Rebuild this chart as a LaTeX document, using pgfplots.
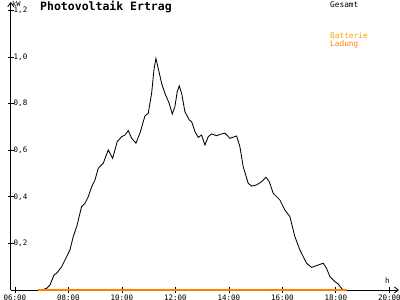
\documentclass[border=0pt]{standalone}
\usepackage{pgfplots}
\pgfplotsset{compat=1.18}
\usepackage{fontspec}
\setmainfont{DejaVu Sans}
\setmonofont{DejaVu Sans Mono}
\usetikzlibrary{arrows.meta}
\definecolor{pvorange}{HTML}{FF8000}
\definecolor{pvyellow}{HTML}{FFA500}
\begin{document}
\begin{tikzpicture}
\useasboundingbox (0pt,0pt) rectangle (400pt,300pt);
\begin{axis}[
 at={(10.7pt,10pt)}, anchor=south west,
 scale only axis, width=388.3pt, height=288pt,
 xmin=5.84, xmax=20.36, ymin=0, ymax=1.236,
 axis lines=left,
 axis line style={line width=0.8pt, -{Straight Barb[length=4pt,width=6pt]}},
 tick style={black, line width=0.8pt},
 major tick length=6pt, tick align=center,
 xtick={6,8,10,12,14,16,18,20},
 xticklabels={06:00,08:00,10:00,12:00,14:00,16:00,18:00,20:00},
 ytick={0.2,0.4,0.6,0.8,1.0,1.2},
 yticklabels={{0,2},{0,4},{0,6},{0,8},{1,0},{1,2}},
 xticklabel style={font=\ttfamily\fontsize{7.5}{8}\selectfont, yshift=1.2pt},
 yticklabel style={font=\ttfamily\fontsize{7.5}{8}\selectfont, anchor=west, xshift=2.5pt},
 clip=false,
]
\addplot[black, line width=0.85pt] coordinates {
(7.00,0) (7.185,0.007) (7.308,0.021) (7.458,0.064) (7.559,0.072) (7.746,0.100) (7.933,0.143) (8.056,0.172) (8.179,0.229) (8.307,0.272) (8.493,0.358) (8.617,0.372) (8.740,0.400) (8.867,0.443) (8.991,0.472) (9.114,0.522) (9.301,0.544) (9.488,0.601) (9.652,0.565) (9.824,0.637) (9.989,0.658) (10.112,0.665) (10.236,0.684) (10.363,0.651) (10.523,0.630) (10.673,0.673) (10.860,0.747) (10.983,0.758) (11.110,0.844) (11.196,0.944) (11.271,0.994) (11.357,0.951) (11.484,0.887) (11.607,0.844) (11.768,0.801) (11.880,0.755) (11.981,0.787) (12.067,0.851) (12.142,0.876) (12.232,0.844) (12.355,0.765) (12.516,0.730) (12.606,0.722) (12.729,0.680) (12.852,0.655) (12.979,0.665) (13.103,0.622) (13.226,0.658) (13.353,0.670) (13.540,0.662) (13.664,0.668) (13.850,0.673) (14.037,0.651) (14.288,0.661) (14.411,0.615) (14.535,0.529) (14.721,0.458) (14.848,0.446) (15.036,0.451) (15.222,0.465) (15.383,0.484) (15.507,0.465) (15.656,0.415) (15.907,0.386) (16.093,0.343) (16.280,0.315) (16.467,0.229) (16.654,0.172) (16.778,0.143) (16.905,0.115) (17.092,0.097) (17.338,0.107) (17.525,0.115) (17.651,0.093) (17.776,0.057) (17.963,0.036) (18.086,0.026) (18.213,0.007) (18.273,0)
};
\addplot[pvorange, line width=1.6pt] coordinates {(6.87,0) (18.40,0)};
\end{axis}
\node[font=\ttfamily\bfseries\fontsize{11.5}{12}\selectfont, inner sep=0pt] at (106pt,293pt) {Photovoltaik Ertrag};
\node[font=\ttfamily\fontsize{7}{8}\selectfont, inner sep=0pt, anchor=base west] at (12pt,293.3pt) {kW};
\node[font=\ttfamily\fontsize{7.5}{8}\selectfont, inner sep=0pt, anchor=base west] at (385pt,16.7pt) {h};
\node[font=\ttfamily\fontsize{7.8}{8}\selectfont, inner sep=0pt, anchor=base west] at (330pt,292.7pt) {Gesamt};
\node[font=\ttfamily\fontsize{7.8}{8}\selectfont, inner sep=0pt, anchor=base west, text=pvyellow] at (330pt,261pt) {Batterie};
\node[font=\ttfamily\fontsize{7.8}{8}\selectfont, inner sep=0pt, anchor=base west, text=pvorange] at (330pt,253.3pt) {Ladung};
\end{tikzpicture}
\end{document}
